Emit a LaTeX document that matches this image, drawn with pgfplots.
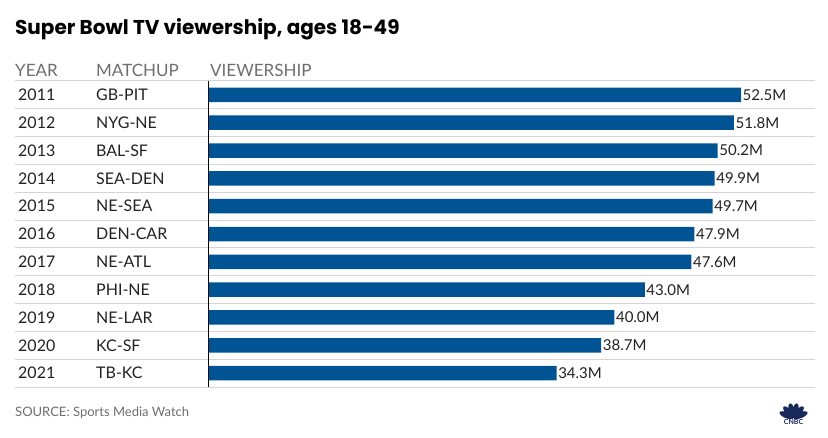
\documentclass[border=0pt]{standalone}
\usepackage{pgfplots}
\pgfplotsset{compat=1.18}
\usepackage{fontspec}
\setmainfont{Lato}
\newfontfamily\titlefont{Poppins}
\definecolor{barblue}{RGB}{0,84,148}
\definecolor{rulegray}{RGB}{212,212,212}
\definecolor{headgray}{RGB}{110,110,110}
\definecolor{txt}{RGB}{34,34,34}
\definecolor{logonavy}{RGB}{24,40,90}
\newcommand{\rowlab}[2]{\makebox[78pt][l]{#1}#2}

\begin{document}
\begin{tikzpicture}
\path[use as bounding box] (0pt,0pt) rectangle (828pt,-438pt);

% title and column headers
\node[anchor=base west, inner sep=0pt, font=\titlefont\fontsize{20}{24}\selectfont\bfseries]
  at (15pt,-35pt) {Super Bowl TV viewership, ages 18-49};
\begin{scope}[every node/.style={anchor=base west, inner sep=0pt,
  text=headgray, font=\fontsize{17}{20}\selectfont}]
  \node at (15pt,-77pt) {YEAR};
  \node at (96pt,-77pt) {MATCHUP};
  \node at (210pt,-77pt) {VIEWERSHIP};
\end{scope}

% row rules
\foreach \k in {0,...,11}
  \draw[rulegray, line width=1pt] (15pt,{-81pt-27.82pt*\k}) -- (815pt,{-81pt-27.82pt*\k});

\begin{axis}[
    at={(209pt,-81pt)}, anchor=north west,
    scale only axis,
    width=606pt, height=306pt,
    xbar,
    bar width=14.5pt,
    xmin=0, xmax=59.8,
    ymin=-0.5, ymax=10.5,
    y dir=reverse,
    axis x line=none,
    axis y line=left,
    y axis line style={-, black, line width=1pt},
    xtick=\empty,
    ytick={0,...,10},
    major tick length=0pt,
    yticklabels={
      {\rowlab{2011}{GB-PIT}},
      {\rowlab{2012}{NYG-NE}},
      {\rowlab{2013}{BAL-SF}},
      {\rowlab{2014}{SEA-DEN}},
      {\rowlab{2015}{NE-SEA}},
      {\rowlab{2016}{DEN-CAR}},
      {\rowlab{2017}{NE-ATL}},
      {\rowlab{2018}{PHI-NE}},
      {\rowlab{2019}{NE-LAR}},
      {\rowlab{2020}{KC-SF}},
      {\rowlab{2021}{TB-KC}}},
    yticklabel style={anchor=west, inner sep=0pt, xshift=-191pt,
      text=txt, font=\fontsize{16}{19}\selectfont},
    /pgf/number format/assume math mode=true,
    point meta=x,
    nodes near coords={\pgfmathprintnumber[fixed,fixed zerofill,precision=1]{\pgfplotspointmeta}M},
    nodes near coords style={anchor=west, inner sep=1.5pt, text=txt,
      font=\fontsize{15}{18}\selectfont},
    clip=false,
]
\addplot[fill=barblue, draw=none] coordinates {
    (52.5,0)
    (51.8,1)
    (50.2,2)
    (49.9,3)
    (49.7,4)
    (47.9,5)
    (47.6,6)
    (43.0,7)
    (40.0,8)
    (38.7,9)
    (34.3,10)
};
\end{axis}

% source
\node[anchor=base west, inner sep=0pt, text=headgray, font=\fontsize{13}{15}\selectfont]
  at (15pt,-417pt) {SOURCE: Sports Media Watch};

% CNBC logo
\foreach \a in {-68,-41,-13.5,13.5,41,68}
  \fill[logonavy, rotate around={\a:(793.5pt,-418pt)}] (793.5pt,-410.5pt) ellipse (3pt and 7.5pt);
\node[inner sep=0pt, text=logonavy, font=\fontsize{7}{8}\selectfont\bfseries]
  at (793.5pt,-422pt) {CNBC};
\end{tikzpicture}
\end{document}
